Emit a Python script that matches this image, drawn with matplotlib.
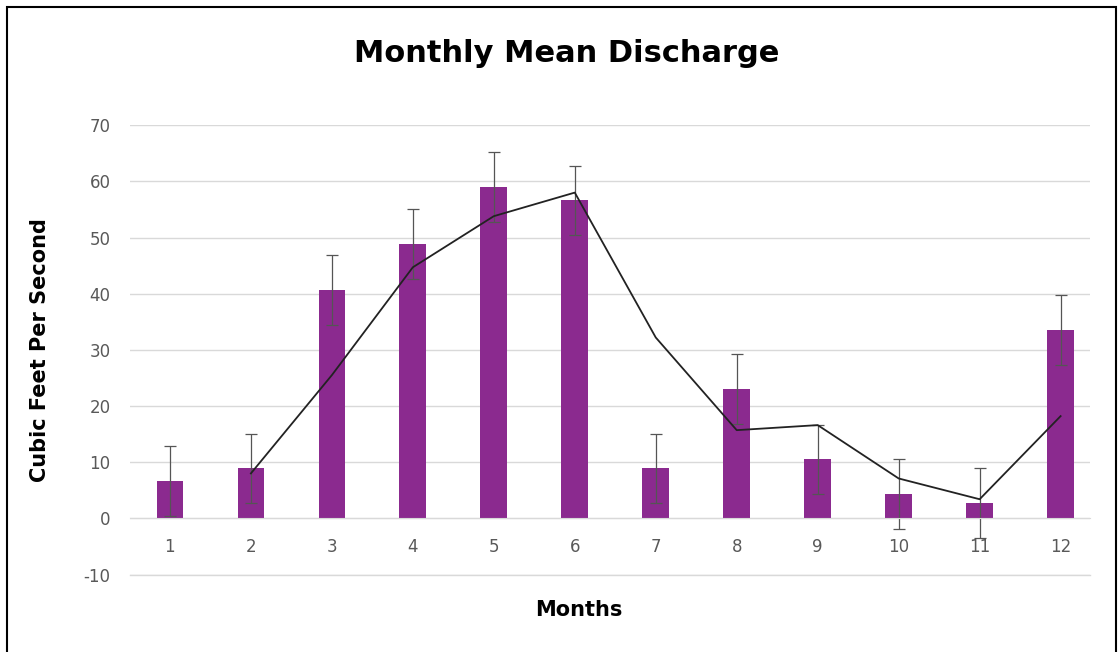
import matplotlib.pyplot as plt
from matplotlib.patches import Rectangle

months = list(range(1, 13))
discharge = [6.6, 8.9, 40.6, 48.8, 59.0, 56.6, 8.9, 23.0, 10.5, 4.3, 2.7, 33.5]
error = [6.2] * 12
trend_x = list(range(2, 13))
trend_y = [8.0, 25.5, 44.7, 53.8, 58.0, 32.2, 15.7, 16.6, 7.1, 3.4, 18.2]

plt.rcParams["axes.unicode_minus"] = False
fig = plt.figure(figsize=(11.2, 6.52), dpi=100)
ax = fig.add_axes([0.116, 0.118, 0.857, 0.69])

ax.bar(months, discharge, width=0.33, color="#8B2A8F", zorder=2,
       yerr=error, error_kw=dict(ecolor="#555555", elinewidth=0.9, capsize=4, capthick=0.9))
ax.plot(trend_x, trend_y, color="#222222", linewidth=1.3, zorder=3)

ax.set_ylim(-10.1, 70)
ax.set_xlim(0.506, 12.36)
ax.set_yticks(range(-10, 71, 10))
ax.set_xticks(months)
ax.grid(axis="y", color="#d9d9d9", linewidth=1, zorder=0)
ax.axhline(-10, color="#d9d9d9", linewidth=1, zorder=0, clip_on=False)
for s in ["top", "right", "left"]:
    ax.spines[s].set_visible(False)
ax.spines["bottom"].set_position(("data", 0))
ax.spines["bottom"].set_color("#d9d9d9")
ax.tick_params(length=0, colors="#595959", labelsize=12)
ax.tick_params(axis="x", pad=14)
ax.tick_params(axis="y", pad=14)

ax.set_ylabel("Cubic Feet Per Second", fontsize=15, fontweight="bold", labelpad=24)
fig.text(0.517, 0.055, "Months", ha="center", fontsize=15, fontweight="bold")
fig.text(0.506, 0.905, "Monthly Mean Discharge", ha="center", fontsize=22, fontweight="bold")

fig.patches.append(Rectangle((0.006, -0.01), 0.99, 1.0, transform=fig.transFigure,
                             fill=False, edgecolor="black", linewidth=1.5))
fig.savefig("out.png", dpi=100)
